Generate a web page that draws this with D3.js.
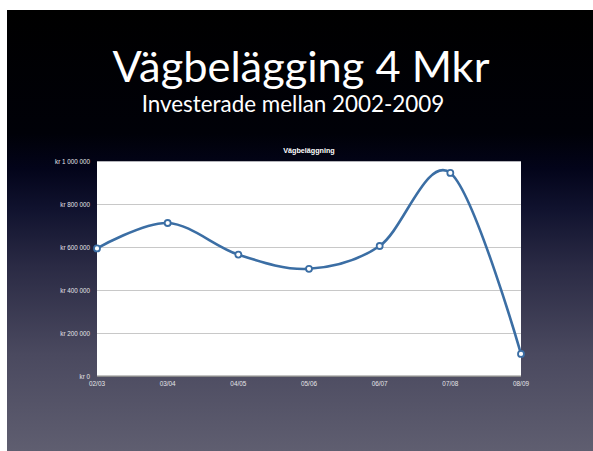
<!DOCTYPE html>
<html><head><meta charset="utf-8">
<script src="https://cdn.jsdelivr.net/npm/d3@7"></script>
<style>html,body{margin:0;padding:0;background:#fff;}svg{display:block;}</style>
</head><body>
<svg id="c" width="593" height="451"></svg>
<script>
const categories = ["02/03","03/04","04/05","05/06","06/07","07/08","08/09"];
const values = [595000, 713000, 566000, 500000, 606000, 946000, 104000];
const yTicks = [0, 200000, 400000, 600000, 800000, 1000000];
const yTickLabels = ["kr 0","kr 200 000","kr 400 000","kr 600 000","kr 800 000","kr 1 000 000"];
const title = "Vägbelägging 4 Mkr";
const subtitle = "Investerade mellan 2002-2009";
const chartTitle = "Vägbeläggning";

const svg = d3.select("#c");
const defs = svg.append("defs");
const g = defs.append("linearGradient").attr("id","bg").attr("x1",0).attr("y1",0).attr("x2",0).attr("y2",1);
[[0,"#000000"],[0.28,"#000108"],[0.36,"#03041a"],[0.45,"#10122e"],[0.58,"#2a2a44"],[0.78,"#4a495f"],[1,"#5f5e70"]]
  .forEach(([o,c])=>g.append("stop").attr("offset",o).attr("stop-color",c));

svg.append("rect").attr("x",7).attr("y",10).attr("width",586).attr("height",441).attr("fill","url(#bg)");

function fitText(sel, targetW){
  const w = sel.node().getComputedTextLength();
  const fs = parseFloat(sel.attr("font-size"));
  sel.attr("font-size", fs*targetW/w);
}
const t1 = svg.append("text").attr("x",301).attr("y",82).attr("text-anchor","middle")
  .attr("fill","#fff").attr("font-family","Lato, 'Open Sans', sans-serif").attr("font-size",50).text(title);
fitText(t1, 377);
const t2 = svg.append("text").attr("x",293).attr("y",112).attr("text-anchor","middle")
  .attr("fill","#fff").attr("font-family","Lato, 'Open Sans', sans-serif").attr("font-size",24).text(subtitle);
fitText(t2, 303);

const L=97, R=521, T=161.3, B=376.3;
const x = d3.scalePoint().domain(categories).range([L,R]);
const y = d3.scaleLinear().domain([0,1000000]).range([B,T]);

svg.append("rect").attr("x",L).attr("y",T).attr("width",R-L).attr("height",B-T).attr("fill","#fff");

svg.append("g").selectAll("line").data(yTicks.filter(d=>d>0 && d<1000000)).join("line")
  .attr("x1",L).attr("x2",R).attr("y1",d=>Math.round(y(d))+0.5).attr("y2",d=>Math.round(y(d))+0.5)
  .attr("stroke","#c8c8c8").attr("stroke-width",1);

svg.append("line").attr("x1",L).attr("x2",R).attr("y1",B).attr("y2",B).attr("stroke","#8a8a8a").attr("stroke-width",1.5);

svg.append("text").attr("x",(L+R)/2).attr("y",153).attr("text-anchor","middle")
  .attr("fill","#fff").attr("font-family","'Liberation Sans', Arial, sans-serif").attr("font-weight","bold")
  .attr("font-size",7.2).text(chartTitle);

svg.append("g").selectAll("text").data(yTicks).join("text")
  .attr("x",90).attr("y",d=>y(d)).attr("dy","0.35em").attr("text-anchor","end")
  .attr("fill","#e4e4e8").attr("font-family","'Liberation Sans', Arial, sans-serif").attr("font-size",6.3)
  .text((d,i)=>yTickLabels[i]);

svg.append("g").selectAll("text").data(categories).join("text")
  .attr("x",d=>x(d)).attr("y",385.5).attr("text-anchor","middle")
  .attr("fill","#e4e4e8").attr("font-family","'Liberation Sans', Arial, sans-serif").attr("font-size",6.4)
  .text(d=>d);

const line = d3.line().x((d,i)=>x(categories[i])).y(d=>y(d)).curve(d3.curveCardinal.tension(0));
svg.append("path").datum(values).attr("d",line).attr("fill","none")
  .attr("stroke","#3b6ea4").attr("stroke-width",2.6);

svg.append("g").selectAll("circle").data(values).join("circle")
  .attr("cx",(d,i)=>x(categories[i])).attr("cy",d=>y(d)).attr("r",3)
  .attr("fill","#fff").attr("stroke","#3b6ea4").attr("stroke-width",1.8);
</script>
</body></html>
